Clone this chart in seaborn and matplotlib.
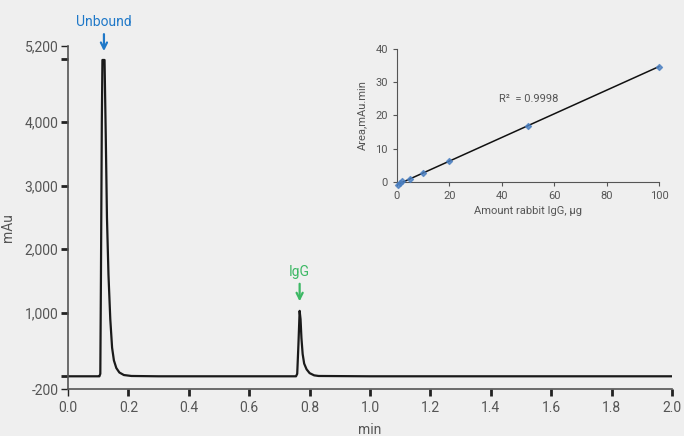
import numpy as np
import pandas as pd
import matplotlib
matplotlib.use("Agg")
import matplotlib.pyplot as plt
import seaborn as sns

# Chromatogram trace: retention time (min) and absorbance (mAu)
time_min = [0.0, 0.05, 0.100, 0.104, 0.107, 0.109, 0.112, 0.114, 0.121, 0.125,
            0.129, 0.134, 0.140, 0.146, 0.152, 0.160, 0.170, 0.185, 0.210, 0.300,
            0.500, 0.700, 0.755, 0.759, 0.763, 0.767, 0.770, 0.773, 0.777, 0.782,
            0.790, 0.800, 0.815, 0.830, 1.000, 1.500, 2.000]
signal_mau = [0, 0, 0, 0, 40, 1500, 4000, 4980, 4980, 3800,
              2500, 1600, 900, 450, 250, 130, 60, 20, 5, 0,
              0, 0, 0, 40, 500, 1030, 900, 600, 350, 200,
              110, 50, 15, 5, 0, 0, 0]

# Calibration: amount of rabbit IgG (µg) vs. peak area (mAu.min)
amount_ug = [0.5, 1.0, 2.0, 5.0, 10.0, 20.0, 50.0, 100.0]
area_mau_min = [-1.0, -0.5, 0.1, 0.8, 2.5, 6.3, 16.9, 34.7]
r_squared = "0.9998"

y_ticks = [-200, 0, 1000, 2000, 3000, 4000, 5000, 5200]
y_tick_labels = ["-200", "", "1,000", "2,000", "3,000", "4,000", "", "5,200"]
x_ticks = [0.0, 0.2, 0.4, 0.6, 0.8, 1.0, 1.2, 1.4, 1.6, 1.8, 2.0]
x_tick_labels = [f"{t:.1f}" for t in x_ticks]

sns.set_style("ticks")
plt.rcParams["font.family"] = ["Roboto", "DejaVu Sans"]

BG = "#efefef"
AX_GREY = "#555555"
TXT_GREY = "#555555"

fig = plt.figure(figsize=(6.84, 4.36), dpi=100, facecolor=BG)
ax = fig.add_axes([68 / 684, 1 - 389 / 436, 604 / 684, 343 / 436])
ax.set_facecolor(BG)

trace = pd.DataFrame({"time": time_min, "signal": signal_mau})
sns.lineplot(data=trace, x="time", y="signal", ax=ax, color="#1a1a1a",
             linewidth=1.6, sort=True)

ax.set_xlim(0, 2.0)
ax.set_ylim(-200, 5200)
ax.set_yticks(y_ticks)
ax.set_yticklabels(y_tick_labels)
ax.set_xticks(x_ticks)
ax.set_xticklabels(x_tick_labels)
ax.set_xlabel("min", fontsize=10, color=TXT_GREY, labelpad=6)
ax.set_ylabel("mAu", fontsize=10, color=TXT_GREY)
ax.yaxis.set_label_coords(-0.088, 0.47)
ax.tick_params(axis="both", colors="#222222", labelcolor=TXT_GREY,
               labelsize=10, length=5, width=2)
ax.tick_params(axis="y", pad=2)
for tick, val in zip(ax.yaxis.get_major_ticks(), y_ticks):
    if val in (-200, 5200):
        tick.tick1line.set_markeredgewidth(1)
        tick.tick1line.set_color(AX_GREY)
for tick, val in zip(ax.xaxis.get_major_ticks(), x_ticks):
    if val == 0.0:
        tick.tick1line.set_markeredgewidth(1)
        tick.tick1line.set_color(AX_GREY)

sns.despine(ax=ax)
for side in ("left", "bottom"):
    ax.spines[side].set_color(AX_GREY)
    ax.spines[side].set_linewidth(1.2)

# Peak annotations
ax.annotate("Unbound", xy=(0.119, 5120), xytext=(0.119, 5460),
            ha="center", va="bottom", color="#1f78c8", fontsize=10,
            annotation_clip=False,
            arrowprops=dict(arrowstyle="->", color="#1f78c8", lw=1.6,
                            shrinkA=1, shrinkB=0, mutation_scale=11))
ax.annotate("IgG", xy=(0.767, 1180), xytext=(0.767, 1530),
            ha="center", va="bottom", color="#3cb864", fontsize=10,
            annotation_clip=False,
            arrowprops=dict(arrowstyle="->", color="#3cb864", lw=1.6,
                            shrinkA=1, shrinkB=0, mutation_scale=11))

# Calibration inset
ins = fig.add_axes([397 / 684, 1 - 181.7 / 436, 262 / 684, 132.7 / 436])
ins.patch.set_alpha(0)
calib = pd.DataFrame({"amount": amount_ug, "area": area_mau_min})
sns.regplot(data=calib, x="amount", y="area", ax=ins, ci=None, truncate=True,
            marker="D",
            scatter_kws=dict(s=9, color="#4a7fc1", clip_on=False, zorder=3),
            line_kws=dict(color="#111111", lw=1.1, clip_on=False))
ins.set_xlim(0, 100)
ins.set_ylim(0, 40)
ins.set_xticks([0, 20, 40, 60, 80, 100])
ins.set_yticks([0, 10, 20, 30, 40])
ins.set_xlabel("Amount rabbit IgG, µg", fontsize=8, color=TXT_GREY, labelpad=4)
ins.set_ylabel("Area,mAu.min", fontsize=8, color=TXT_GREY, labelpad=6)
ins.tick_params(axis="both", colors=AX_GREY, labelcolor=TXT_GREY,
                labelsize=8, length=3, width=0.8)
sns.despine(ax=ins)
for side in ("left", "bottom"):
    ins.spines[side].set_color(AX_GREY)
    ins.spines[side].set_linewidth(0.8)
ins.text(39, 23.5, f"R²  = {r_squared}", fontsize=8, color=TXT_GREY,
         ha="left", va="bottom")

fig.savefig("out.png", dpi=100, facecolor=BG)
